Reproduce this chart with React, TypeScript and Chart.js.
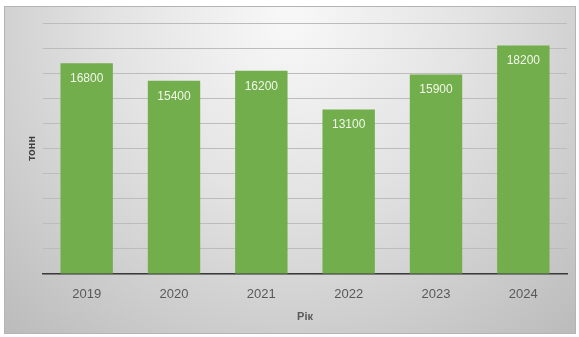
import React, { useEffect, useRef } from "react";
import { Chart, registerables } from "chart.js";

Chart.register(...registerables);

const categories = ["2019", "2020", "2021", "2022", "2023", "2024"];
const values = [16800, 15400, 16200, 13100, 15900, 18200];
const yTitle = "тонн";
const xTitle = "Рік";

const bgPlugin = {
  id: "bgPlugin",
  beforeDraw(chart: any) {
    const ctx = chart.ctx;
    ctx.save();
    ctx.fillStyle = "#ffffff";
    ctx.fillRect(0, 0, chart.width, chart.height);
    const g = ctx.createRadialGradient(290, 20, 10, 290, 20, 430);
    g.addColorStop(0, "#f7f7f7");
    g.addColorStop(0.4, "#e3e3e3");
    g.addColorStop(1, "#bababa");
    ctx.fillStyle = g;
    ctx.fillRect(4, 6, 572, 328);
    ctx.strokeStyle = "#b4b4b4";
    ctx.lineWidth = 1;
    ctx.strokeRect(4.5, 6.5, 571, 327);
    ctx.restore();
  },
};

const labelPlugin = {
  id: "labelPlugin",
  afterDatasetsDraw(chart: any) {
    const ctx = chart.ctx;
    const meta = chart.getDatasetMeta(0);
    ctx.save();
    ctx.fillStyle = "#f2f7ec";
    ctx.font = "12px 'Liberation Sans', Arial, sans-serif";
    ctx.textAlign = "center";
    ctx.textBaseline = "middle";
    meta.data.forEach((bar: any, i: number) => {
      ctx.fillText(String(chart.data.datasets[0].data[i]), bar.x, bar.y + 15.5);
    });
    ctx.restore();
  },
};

export default function App() {
  const ref = useRef<HTMLCanvasElement>(null);
  useEffect(() => {
    if (!ref.current) return;
    const chart = new Chart(ref.current, {
      type: "bar",
      data: {
        labels: categories,
        datasets: [
          {
            data: values,
            backgroundColor: "#72ae4b",
            borderWidth: 0,
            barPercentage: 0.6,
            categoryPercentage: 1,
          },
        ],
      },
      options: {
        animation: false,
        responsive: false,
        devicePixelRatio: 1,
        layout: { padding: { left: 23.4, right: 12, top: 23, bottom: 13.4 } },
        plugins: { legend: { display: false }, tooltip: { enabled: false } },
        scales: {
          x: {
            grid: { color: "rgba(0,0,0,0)", drawTicks: false },
            border: { display: true, color: "#3a3a3a", width: 1.5 },
            ticks: {
              padding: 13,
              color: "#595959",
              font: { family: "'Liberation Sans', Arial, sans-serif", size: 13 },
            },
            title: {
              display: true,
              text: xTitle,
              color: "#595959",
              font: { family: "'Liberation Sans', Arial, sans-serif", size: 11, weight: "bold" },
              padding: { top: -5.2, bottom: 0 },
            },
          },
          y: {
            min: 0,
            max: 20000,
            ticks: { display: false, stepSize: 2000 },
            grid: { color: "#bcbcbc", lineWidth: 1, drawTicks: false },
            border: { display: false },
            title: {
              display: true,
              text: yTitle,
              color: "#404040",
              font: { family: "'Liberation Sans', Arial, sans-serif", size: 11, weight: "bold" },
              padding: { top: 2, bottom: 4.4 },
            },
          },
        },
      },
      plugins: [bgPlugin, labelPlugin],
    });
    return () => chart.destroy();
  }, []);
  return (
    <div style={{ position: "absolute", left: 0, top: 0, width: 579, height: 337 }}>
      <canvas ref={ref} width={579} height={337} />
    </div>
  );
}
